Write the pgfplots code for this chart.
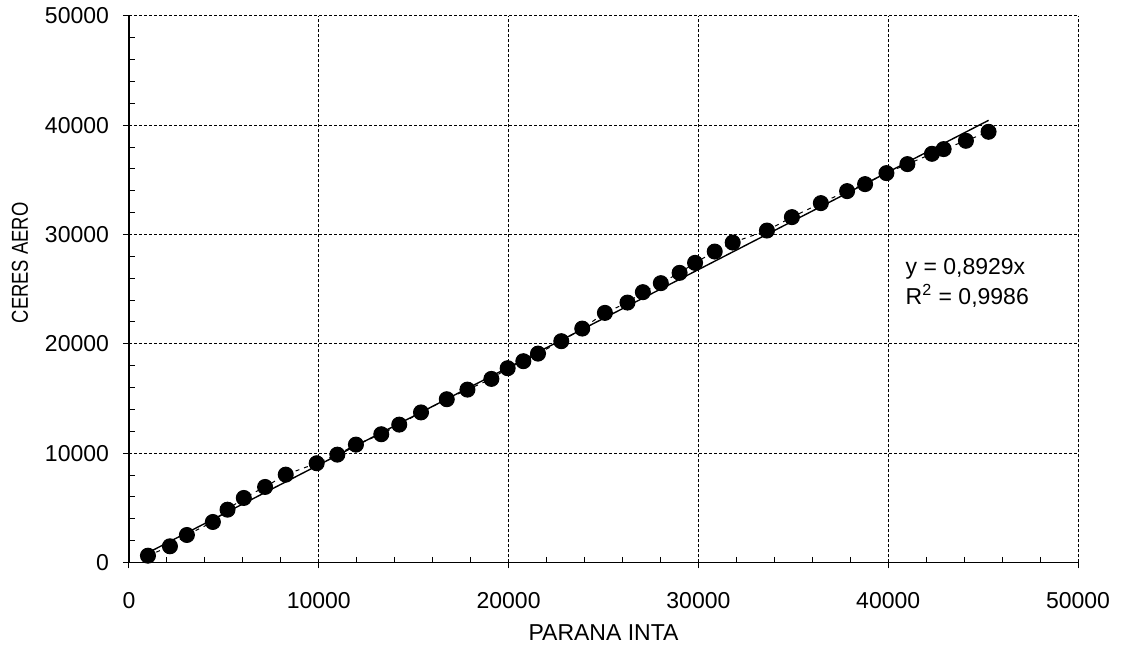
\documentclass[border=0pt]{standalone}
\usepackage{fontspec}
\setmainfont{Liberation Sans}
\usepackage{pgfplots}
\pgfplotsset{compat=1.18}
\begin{document}
\begin{tikzpicture}
\begin{axis}[
  scale only axis, width=474.5pt, height=273.35pt,
  at={(0,0)}, anchor=south west,
  xmin=0, xmax=50000, ymin=0, ymax=50000,
  xtick={0,10000,20000,30000,40000,50000},
  ytick={0,10000,20000,30000,40000,50000},
  minor tick num=4,
  scaled ticks=false,
  /pgf/number format/1000 sep={},
  /pgf/number format/assume math mode=true,
  axis x line*=bottom, axis y line*=left,
  axis line style={-, line width=0.6pt, black},
  tick align=outside,
  major tick length=3pt, minor tick length=-2.8pt,
  tick style={black, line width=0.5pt},
  grid=major,
  major grid style={black, line width=0.5pt, dash pattern=on 1.5pt off 1pt},
  font=\fontsize{11.5}{13}\selectfont,
  xticklabel style={font=\fontsize{11.5}{13}\selectfont, yshift=-8.5pt},
  yticklabel style={font=\fontsize{11.5}{13}\selectfont, xshift=-3.5pt},
  xlabel={PARANA INTA}, ylabel={CERES AERO},
  xlabel style={at={([yshift=-35.25pt]axis description cs:0.5,0)}, anchor=center, font=\fontsize{11.5}{13}\selectfont},
  ylabel style={at={([xshift=-54.5pt]axis description cs:0,0.548)}, anchor=center, font=\fontsize{11.5}{13}\selectfont, xscale=0.8},
  clip=false,
]
\addplot[black, line width=0.5pt, dash pattern=on 2pt off 2.5pt, mark=*, mark size=3.75pt, mark options={solid, fill=black}] coordinates {
(999,622) (2157,1482) (3051,2516) (4418,3706) (5191,4831) (6049,5902)
(7169,6908) (8258,8034) (9889,9077) (10977,9864) (11956,10779) (13292,11730)
(14239,12609) (15385,13725) (16742,14933) (17831,15811) (19093,16790) (19951,17769)
(20777,18410) (21550,19105) (22776,20240) (23880,21393) (25074,22829) (26263,23772)
(27073,24723) (28020,25547) (29009,26489) (29824,27404) (30860,28438) (31807,29262)
(33611,30360) (34926,31586) (36452,32867) (37835,33965) (38782,34605) (39908,35612)
(41012,36435) (42306,37378) (42922,37808) (44095,38567) (45288,39391)
};
\addplot[black, line width=0.7pt] coordinates {(999,892) (45288,40438)};
\node[anchor=west, align=left, font=\fontsize{11.5}{15}\selectfont] at (axis cs:40550,25574) {y = 0,8929x\\R\textsuperscript{2} = 0,9986};
\end{axis}
\path (-64.5pt,-44.25pt) rectangle (496.5pt,281.25pt);
\end{tikzpicture}
\end{document}
